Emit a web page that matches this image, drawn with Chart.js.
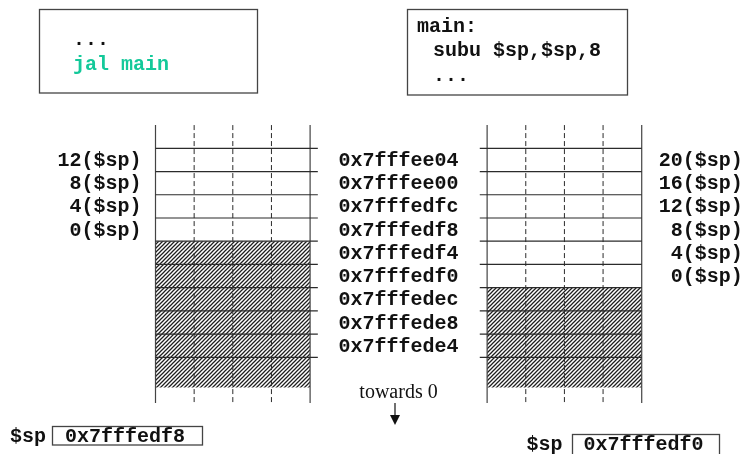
<!DOCTYPE html>
<html>
<head>
<meta charset="utf-8">
<script src="https://cdn.jsdelivr.net/npm/chart.js@4/dist/chart.umd.min.js"></script>
<style>
  html, body { margin: 0; padding: 0; background: #fff; }
  #wrap { width: 746px; height: 454px; }
</style>
</head>
<body>
<div id="wrap"><canvas id="stack" width="746" height="454"></canvas></div>
<script>
// one address per stack word, top row first
const addresses = ['0x7fffee04', '0x7fffee00', '0x7fffedfc', '0x7fffedf8', '0x7fffedf4',
                   '0x7fffedf0', '0x7fffedec', '0x7fffede8', '0x7fffede4'];
// $sp-relative names of the words in use, top row first
const offsetsBefore = ['12($sp)', '8($sp)', '4($sp)', '0($sp)'];
const offsetsAfter = ['20($sp)', '16($sp)', '12($sp)', '8($sp)', '4($sp)', '0($sp)'];
const spBefore = '0x7fffedf8';
const spAfter = '0x7fffedf0';
const callerCode = ['...', 'jal main'];
const calleeCode = ['main:', 'subu $sp,$sp,8', '...'];

// layout (x in byte columns, y in word rows)
const COL = 38.65, ROW = 23.23, X0 = 155.5, Y0 = 148.3;
const RIGHT = 8.58;          // left edge of the second stack
const TOP = -1, BOTTOM = 10.96, HATCH_END = 10.3;
const LINE = '#2b2b2b';
const MONO = 'bold 20px "Liberation Mono", "Courier New", monospace';

// diagonal hatch for the free part of the stack
const tile = document.createElement('canvas');
tile.width = 4; tile.height = 4;
const tc = tile.getContext('2d');
tc.fillStyle = '#fff';
tc.fillRect(0, 0, 4, 4);
tc.strokeStyle = '#1e1e1e';
tc.lineWidth = 1.25;
tc.beginPath();
tc.moveTo(0, 4); tc.lineTo(4, 0);
tc.moveTo(-1, 1); tc.lineTo(1, -1);
tc.moveTo(3, 5); tc.lineTo(5, 3);
tc.stroke();
const hatch = tc.createPattern(tile, 'repeat');

function seg(x0, y0, x1, y1, extra) {
    return Object.assign({
        data: [{ x: x0, y: y0 }, { x: x1, y: y1 }],
        showLine: true, pointRadius: 0, borderColor: LINE, borderWidth: 1.2,
        fill: false, order: 0
    }, extra || {});
}

function stackDatasets(left, usedRows, lineFrom, lineTo) {
    const out = [];
    // free (hatched) words below $sp
    out.push(seg(left, usedRows, left + 4, usedRows, {
        borderWidth: 0, fill: { value: HATCH_END }, backgroundColor: hatch, order: 5
    }));
    // word boundaries
    for (let r = 0; r <= addresses.length; r++) {
        out.push(seg(left + lineFrom, r, left + lineTo, r));
    }
    // byte columns
    for (let c = 0; c <= 4; c++) {
        const dashed = c > 0 && c < 4;
        out.push(seg(left + c, TOP, left + c, BOTTOM, dashed ? { borderDash: [5, 3], borderWidth: 1 } : { borderColor: '#444' }));
    }
    return out;
}

const datasets = [
    ...stackDatasets(0, offsetsBefore.length, 0, 4.2),
    ...stackDatasets(RIGHT, offsetsAfter.length, -0.19, 4)
];

const textPlugin = {
    id: 'stackText',
    afterDatasetsDraw(chart) {
        const { ctx, scales: { x, y } } = chart;
        ctx.save();
        ctx.fillStyle = '#111';
        ctx.font = MONO;
        ctx.textBaseline = 'middle';

        // addresses between the two stacks
        ctx.textAlign = 'center';
        const midX = (x.getPixelForValue(4) + x.getPixelForValue(RIGHT)) / 2;
        addresses.forEach((a, i) => ctx.fillText(a, midX, y.getPixelForValue(i + 0.5) + 1));

        ctx.textAlign = 'right';
        offsetsBefore.forEach((o, i) => ctx.fillText(o, x.getPixelForValue(0) - 14, y.getPixelForValue(i + 0.5) + 1));
        offsetsAfter.forEach((o, i) => ctx.fillText(o, x.getPixelForValue(RIGHT + 4) + 101, y.getPixelForValue(i + 0.5) + 1));

        // code boxes
        ctx.textAlign = 'left';
        ctx.textBaseline = 'alphabetic';
        ctx.strokeStyle = '#444';
        ctx.lineWidth = 1.3;
        ctx.strokeRect(39.5, 9.5, 218, 83.5);
        ctx.fillText(callerCode[0], 73, 45);
        ctx.fillStyle = '#14c99a';
        ctx.fillText(callerCode[1], 73, 70);

        ctx.fillStyle = '#111';
        ctx.strokeRect(407.5, 9.5, 220, 85.5);
        ctx.fillText(calleeCode[0], 417, 32);
        ctx.fillText(calleeCode[1], 433, 56);
        ctx.fillText(calleeCode[2], 433, 81);

        // $sp registers
        ctx.fillText('$sp', 10, 442);
        ctx.strokeRect(52.5, 426.5, 150, 18.5);
        ctx.fillText(spBefore, 65, 442);

        ctx.fillText('$sp', 526.5, 450);
        ctx.strokeRect(572.5, 434.5, 147, 25);
        ctx.fillText(spAfter, 583.5, 450);

        // growth direction
        ctx.font = '20px "Liberation Serif", "Times New Roman", serif';
        ctx.textAlign = 'center';
        ctx.fillText('towards 0', 398.5, 398);
        ctx.strokeStyle = '#111';
        ctx.lineWidth = 1.2;
        ctx.beginPath();
        ctx.moveTo(395, 403);
        ctx.lineTo(395, 416);
        ctx.stroke();
        ctx.beginPath();
        ctx.moveTo(390, 415);
        ctx.lineTo(400, 415);
        ctx.lineTo(395, 425);
        ctx.closePath();
        ctx.fill();
        ctx.restore();
    }
};

new Chart(document.getElementById('stack').getContext('2d'), {
    type: 'scatter',
    data: { datasets },
    options: {
        responsive: false,
        animation: false,
        events: [],
        layout: { padding: 0 },
        scales: {
            x: { type: 'linear', display: false, min: -X0 / COL, max: (746 - X0) / COL },
            y: { type: 'linear', display: false, reverse: true, min: -Y0 / ROW, max: (454 - Y0) / ROW }
        },
        plugins: { legend: { display: false }, tooltip: { enabled: false } }
    },
    plugins: [textPlugin]
});
</script>
</body>
</html>
